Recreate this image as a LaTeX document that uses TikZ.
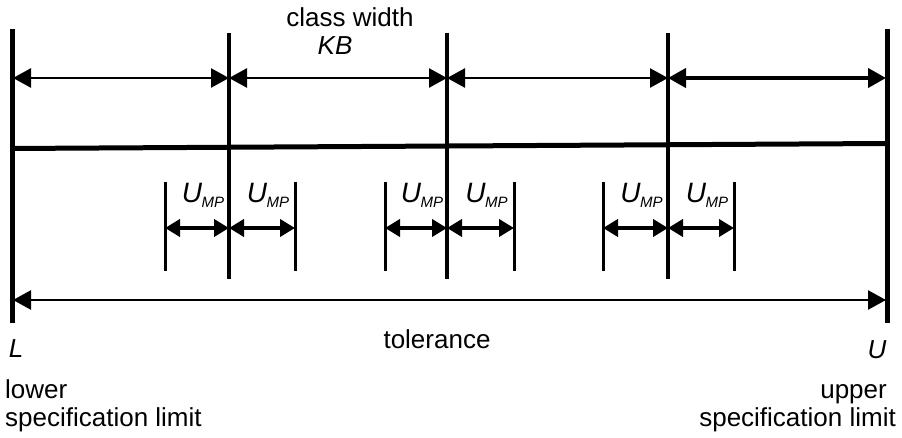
\documentclass[tikz,border=0pt]{standalone}
\usepackage{fontspec}
\setmainfont{Liberation Sans}
\usetikzlibrary{arrows.meta}
\begin{document}
\begin{tikzpicture}[x=1pt,y=-1pt,
  txt/.style={inner sep=0pt,anchor=base,font=\fontsize{26}{30}\selectfont},
  limitline/.style={line width=5pt},
  classline/.style={line width=3.5pt},
  shortline/.style={line width=3pt},
  thinarrow/.style={line width=2.5pt,{Triangle[length=18pt,width=19pt]}-{Triangle[length=18pt,width=19pt]}},
  thickarrow/.style={line width=4pt,{Triangle[length=18pt,width=19pt]}-{Triangle[length=18pt,width=19pt]}},
  umparrow/.style={line width=4pt,{Triangle[length=15pt,width=17pt]}-{Triangle[length=15pt,width=17pt]}},
  umplabel/.style={inner sep=0pt,anchor=base}]
\useasboundingbox (0,0) rectangle (902,438);
\newcommand{\umptext}{{\fontsize{28}{28}\selectfont\itshape U\kern-0.5pt\raisebox{-5pt}{\fontsize{15}{15}\selectfont MP}}}
% limit lines
\coordinate (Lt) at (12,29); \coordinate (Lb) at (12,323);
\coordinate (Rt) at (887,29); \coordinate (Rb) at (887,323);
\draw[limitline] (Lt) -- (Lb);
\draw[limitline] (Rt) -- (Rb);
% class lines
\coordinate (c1t) at (229,33); \coordinate (c1b) at (229,279);
\coordinate (c2t) at (447,33); \coordinate (c2b) at (447,279);
\coordinate (c3t) at (668,33); \coordinate (c3b) at (668,279);
\draw[classline] (c1t) -- (c1b);
\draw[classline] (c2t) -- (c2b);
\draw[classline] (c3t) -- (c3b);
% top class arrows
\coordinate (a0) at (13,78); \coordinate (a1) at (229,78);
\coordinate (a2) at (447,78); \coordinate (a3) at (668,78);
\coordinate (a4) at (886,78);
\draw[thinarrow] (a0) -- (a1);
\draw[thinarrow] (a1) -- (a2);
\draw[thinarrow] (a2) -- (a3);
\draw[thickarrow] (a3) -- (a4);
% sloped line
\coordinate (s0) at (12,148.5); \coordinate (s1) at (887,143.5);
\draw[line width=5pt] (s0) -- (s1);
% U_MP short lines and arrows
\foreach \l/\m/\r [count=\i] in {165/229/295,385/447/514,603/668/734}{
  \coordinate (ul\i t) at (\l,182); \coordinate (ul\i b) at (\l,271);
  \coordinate (ur\i t) at (\r,182); \coordinate (ur\i b) at (\r,271);
  \draw[shortline] (ul\i t) -- (ul\i b);
  \draw[shortline] (ur\i t) -- (ur\i b);
  \coordinate (pl\i) at (\l,228); \coordinate (pm\i) at (\m,228); \coordinate (pr\i) at (\r,228);
  \draw[umparrow] (pl\i) -- (pm\i);
  \draw[umparrow] (pm\i) -- (pr\i);
  \node[umplabel] (uml\i) at ({(\l+\m)/2+6},203) {\umptext};
  \node[umplabel] (umr\i) at ({(\m+\r)/2+6},203) {\umptext};
}
% tolerance arrow
\coordinate (t0) at (13,300); \coordinate (t1) at (886,300);
\draw[thinarrow] (t0) -- (t1);
% texts
\node[txt] (cw) at (350,27) {class width};
\node[txt] (kb) at (335,55) {\itshape KB};
\node[txt] (tol) at (437,348) {tolerance};
\node[txt] (L) at (16,357) {\itshape L};
\node[txt] (U) at (877,358) {\itshape U};
\node[txt,anchor=base west] (low) at (5,398) {lower};
\node[txt,anchor=base west] (lsl) at (5,426) {specification limit};
\node[txt,anchor=base east] (up) at (887,398) {upper};
\node[txt,anchor=base east] (usl) at (896,426) {specification limit};
\end{tikzpicture}
\end{document}
